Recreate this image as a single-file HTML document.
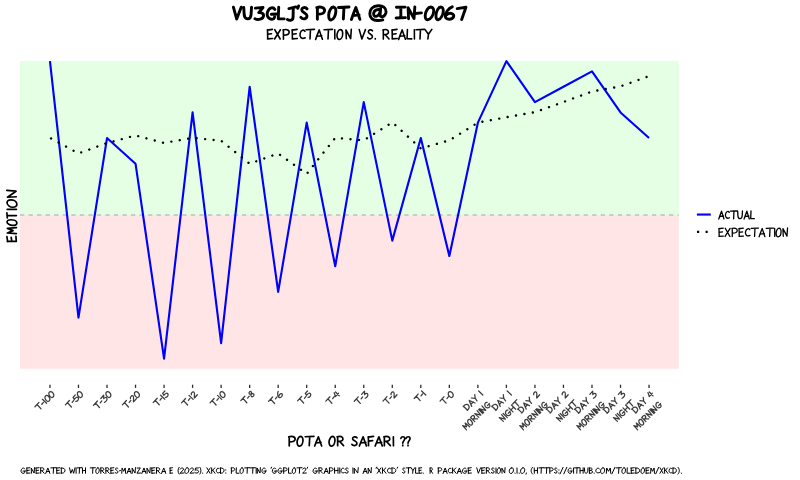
<!DOCTYPE html>
<html>
<head>
<meta charset="utf-8">
<title>VU3GLJ's POTA @ IN-0067</title>
<style>
html,body{margin:0;padding:0;background:#fff;}
body{width:800px;height:480px;overflow:hidden;font-family:"Liberation Sans",sans-serif;}
svg{display:block;}
</style>
</head>
<body>
<svg width="800" height="480" viewBox="0 0 800 480" role="img" aria-label="VU3GLJ's POTA @ IN-0067 - Expectation vs. Reality (xkcd-style line chart of Emotion over time: Actual vs Expectation)">
<rect x="0" y="0" width="800" height="480" fill="#ffffff"/>
<rect x="20" y="61" width="658.8" height="154" fill="#E5FFE5"/>
<rect x="20" y="215" width="658.8" height="153.75" fill="#FFE5E5"/>
<line x1="20" y1="215" x2="678.8" y2="215" stroke="#BEBEBE" stroke-width="1.4" stroke-dasharray="4.27 4.27"/>
<clipPath id="pc"><rect x="20" y="60" width="658.8" height="308.75"/></clipPath>
<polyline points="49.95,61.12 78.48,317.58 107.01,138.06 135.53,163.71 164.06,358.62 192.59,112.42 221.12,343.23 249.65,86.77 278.17,291.94 306.7,122.67 335.23,266.29 363.76,102.16 392.29,240.65 420.81,138.06 449.34,256.03 477.87,122.67 506.4,61.12 534.93,102.16 563.45,86.77 591.98,71.38 620.51,112.42 649.04,138.06" fill="none" stroke="#0000FF" stroke-width="2.13" stroke-linejoin="round" clip-path="url(#pc)"/>
<polyline points="49.95,137.8 78.48,153.4 107.01,143.1 135.53,135.4 164.06,142.95 192.59,137.9 221.12,140.7 249.65,163.7 278.17,153.5 306.7,173.8 335.23,137.85 363.76,140.35 392.29,122.3 420.81,148.4 449.34,140.3 477.87,122.6 506.4,117.25 534.93,112.15 563.45,102 591.98,91.5 620.51,86.4 649.04,76.1" fill="none" stroke="#000000" stroke-width="2.4" stroke-linejoin="round" stroke-linecap="round" stroke-dasharray="0.01 8.525" stroke-dashoffset="-1.3"/>
<line x1="49.95" y1="384.7" x2="49.95" y2="387.9" stroke="#2b2b2b" stroke-width="1.3"/>
<line x1="78.48" y1="384.7" x2="78.48" y2="387.9" stroke="#2b2b2b" stroke-width="1.3"/>
<line x1="107.01" y1="384.7" x2="107.01" y2="387.9" stroke="#2b2b2b" stroke-width="1.3"/>
<line x1="135.53" y1="384.7" x2="135.53" y2="387.9" stroke="#2b2b2b" stroke-width="1.3"/>
<line x1="164.06" y1="384.7" x2="164.06" y2="387.9" stroke="#2b2b2b" stroke-width="1.3"/>
<line x1="192.59" y1="384.7" x2="192.59" y2="387.9" stroke="#2b2b2b" stroke-width="1.3"/>
<line x1="221.12" y1="384.7" x2="221.12" y2="387.9" stroke="#2b2b2b" stroke-width="1.3"/>
<line x1="249.65" y1="384.7" x2="249.65" y2="387.9" stroke="#2b2b2b" stroke-width="1.3"/>
<line x1="278.17" y1="384.7" x2="278.17" y2="387.9" stroke="#2b2b2b" stroke-width="1.3"/>
<line x1="306.7" y1="384.7" x2="306.7" y2="387.9" stroke="#2b2b2b" stroke-width="1.3"/>
<line x1="335.23" y1="384.7" x2="335.23" y2="387.9" stroke="#2b2b2b" stroke-width="1.3"/>
<line x1="363.76" y1="384.7" x2="363.76" y2="387.9" stroke="#2b2b2b" stroke-width="1.3"/>
<line x1="392.29" y1="384.7" x2="392.29" y2="387.9" stroke="#2b2b2b" stroke-width="1.3"/>
<line x1="420.81" y1="384.7" x2="420.81" y2="387.9" stroke="#2b2b2b" stroke-width="1.3"/>
<line x1="449.34" y1="384.7" x2="449.34" y2="387.9" stroke="#2b2b2b" stroke-width="1.3"/>
<line x1="477.87" y1="384.7" x2="477.87" y2="387.9" stroke="#2b2b2b" stroke-width="1.3"/>
<line x1="506.4" y1="384.7" x2="506.4" y2="387.9" stroke="#2b2b2b" stroke-width="1.3"/>
<line x1="534.93" y1="384.7" x2="534.93" y2="387.9" stroke="#2b2b2b" stroke-width="1.3"/>
<line x1="563.45" y1="384.7" x2="563.45" y2="387.9" stroke="#2b2b2b" stroke-width="1.3"/>
<line x1="591.98" y1="384.7" x2="591.98" y2="387.9" stroke="#2b2b2b" stroke-width="1.3"/>
<line x1="620.51" y1="384.7" x2="620.51" y2="387.9" stroke="#2b2b2b" stroke-width="1.3"/>
<line x1="649.04" y1="384.7" x2="649.04" y2="387.9" stroke="#2b2b2b" stroke-width="1.3"/>
<line x1="696.9" y1="214.55" x2="710.8" y2="214.55" stroke="#0000FF" stroke-width="2.13"/>
<line x1="697.05" y1="231.9" x2="710.9" y2="231.9" stroke="#000000" stroke-width="2.13" stroke-dasharray="2.13 6.4"/>
<g transform="translate(0,19)"><path d="M233.4,-11.8L236.7,0L241.19,-11.8M243.75,-11.45L244.22,-4.01C244.69,1.18 250.59,1.18 251.07,-4.48L251.54,-11.8M255.35,-10.86L263.02,-11.45L258.78,-6.37C262.08,-6.61 263.97,-4.96 263.5,-3.07C263.02,0.24 257.83,1.18 255,-0.24M274.87,-9.56C273.45,-12.04 269.44,-12.27 267.55,-7.08C265.9,-1.89 270.15,1.42 273.69,-0.24C274.63,-0.94 274.87,-2.6 274.87,-4.48M271.33,-4.72L276.64,-5.07M278.72,-11.8L278.25,-0.24L284.15,-0.12M288.93,-10.38L295.9,-12.04M293.3,-11.33L293.06,-1.65C292.95,1.42 290,2.12 287.4,0.47M298.58,-13.1L297.75,-10.74M307.04,-10.15C305.62,-12.27 301.73,-11.8 301.73,-8.97C301.73,-6.37 306.68,-6.14 306.92,-3.3C307.15,0 303.02,0.94 300.9,-1.65M317.39,-11.45L317.39,0.24M316.8,-11.33C320.1,-12.74 324.82,-11.8 324.59,-8.26C324.35,-5.43 320.34,-4.72 317.51,-4.72M333.46,-12.04C331.1,-12.27 328.97,-7.79 328.74,-4.48C328.5,-0.94 329.44,1.18 331.1,0.94C333.69,0.71 335.58,-3.54 335.82,-7.08C336.05,-10.38 335.11,-12.15 332.75,-11.68M338.4,-11.56L349.02,-12.04M343.95,-11.8L343.36,0M351.4,0.47C352.58,-3.07 354.23,-7.43 355.88,-11.45C357.06,-7.79 358.6,-3.42 359.9,0.35M352.82,-3.42L359.07,-4.13M380.3,-8.26C378.77,-10.62 373.81,-9.2 373.58,-5.19C373.58,-1.42 378.53,-1.65 380.18,-7.08M380.66,-10.27L380.07,-3.78C380.42,-1.42 384.67,-1.65 385.97,-6.49C386.56,-11.8 382.31,-13.45 378.18,-13.22C372.63,-12.98 369.8,-9.44 369.8,-5.31C369.8,-0.71 373.34,1.65 377.59,1.53C379.71,1.53 381.36,1.42 382.78,0.94M396.45,-11.8L405.07,-11.92M400.82,-11.8L400.82,-1.18M396.1,-1.06L405.42,-1.42M408.57,-0.24L408.1,-11.33L414,-0.47L414.83,-12.15M415.5,-5.55L421.4,-6.14M431.02,-12.04C428.07,-12.27 425.47,-7.55 425.24,-3.78C425,-0.47 426.18,0.94 427.71,0.71C430.9,0.47 433.5,-4.25 433.73,-8.02C433.73,-10.86 432.55,-12.15 430.19,-11.68M440.98,-12.04C438.44,-12.27 436.21,-7.55 436,-3.78C435.8,-0.47 436.81,0.94 438.13,0.71C440.87,0.47 443.11,-4.25 443.31,-8.02C443.31,-10.86 442.29,-12.15 440.27,-11.68M452.22,-12.15C448.2,-10.62 444.9,-5.9 445.37,-2.36C445.84,0.94 452.22,1.18 453.63,-2.36C454.58,-5.19 450.09,-7.08 446.55,-4.25M457.2,-10.38L465.93,-11.8L461.68,0.47" fill="none" stroke="#000000" stroke-width="2.9" stroke-linecap="round" stroke-linejoin="round"/></g>
<g transform="translate(0,39)"><path d="M267.53,-9.21L267.72,-0.09M267.25,-8.84L272.42,-9.59M267.72,-4.7L271.57,-5.26M267.53,-0.09L272.61,-0.47M274.74,-9.4L280.19,0M280.38,-9.21L274.55,0M283.42,-9.12L283.42,0.19M282.95,-9.02C285.58,-10.15 289.34,-9.4 289.15,-6.58C288.97,-4.32 285.77,-3.76 283.51,-3.76M292.23,-9.21L292.42,-0.09M291.95,-8.84L297.12,-9.59M292.42,-4.7L296.27,-5.26M292.23,-0.09L297.31,-0.47M304.99,-7.71C303.86,-9.68 301.14,-9.21 300.1,-5.64C299.35,-2.07 301.7,0.56 305.18,-1.22M306.05,-9.21L314.51,-9.59M310.47,-9.4L310,0M315.65,0.38C316.59,-2.44 317.91,-5.92 319.22,-9.12C320.16,-6.2 321.38,-2.73 322.42,0.28M316.78,-2.73L321.76,-3.29M324.05,-9.21L332.51,-9.59M328.47,-9.4L328,0M334.75,-9.21L334.84,0M340.71,-9.49C338.64,-9.78 336.95,-6.39 336.95,-3.67C336.95,-0.85 338.08,0.66 339.49,0.47C341.46,0.19 342.68,-2.82 342.68,-5.55C342.68,-8.18 341.84,-9.68 340.05,-9.31M346.33,-0.19L345.95,-9.02L350.65,-0.38L351.31,-9.68M359.25,-9.4L361.88,0L365.45,-9.4M372.54,-8.08C371.41,-9.78 368.31,-9.4 368.31,-7.14C368.31,-5.08 372.26,-4.89 372.44,-2.63C372.63,0 369.34,0.75 367.65,-1.32M375.25,-0.47L375.34,0M383.32,-9.12L383.32,0.09M382.85,-9.02C385.48,-10.15 388.68,-9.4 388.49,-6.77C388.3,-4.89 385.67,-4.32 383.51,-4.32M385.29,-4.32L389.05,0M392.13,-9.21L392.32,-0.09M391.85,-8.84L397.02,-9.59M392.32,-4.7L396.17,-5.26M392.13,-0.09L397.21,-0.47M398.65,0.38C399.59,-2.44 400.91,-5.92 402.22,-9.12C403.16,-6.2 404.38,-2.73 405.42,0.28M399.78,-2.73L404.76,-3.29M407.43,-9.4L407.05,-0.19L411.75,-0.09M414.35,-9.21L414.44,0M416.05,-9.21L424.51,-9.59M420.47,-9.4L420,0M425.05,-9.4L428.43,-4.7M431.82,-9.59L428.43,-4.7L427.87,0" fill="none" stroke="#000000" stroke-width="1.6" stroke-linecap="round" stroke-linejoin="round"/></g>
<g transform="translate(0,445.65)"><path d="M289.23,-8.83L289.23,0.18M288.75,-8.74C291.46,-9.83 295.33,-9.1 295.14,-6.37C294.94,-4.19 291.65,-3.64 289.33,-3.64M300.94,-9.19C298.81,-9.46 297.07,-6.19 297.07,-3.55C297.07,-0.82 298.23,0.64 299.68,0.46C301.72,0.18 302.97,-2.73 302.97,-5.37C302.97,-7.92 302.1,-9.37 300.26,-9.01M305.2,-8.92L313.91,-9.28M309.75,-9.1L309.26,0M314.68,0.36C315.65,-2.37 317.01,-5.73 318.36,-8.83C319.33,-6.01 320.59,-2.64 321.65,0.27M315.84,-2.64L320.97,-3.19" fill="none" stroke="#000000" stroke-width="1.7" stroke-linecap="round" stroke-linejoin="round"/></g>
<g transform="translate(0,445.65)"><path d="M332.92,-9.19C330.79,-9.46 329.05,-6.19 329.05,-3.55C329.05,-0.82 330.21,0.64 331.66,0.46C333.69,0.18 334.95,-2.73 334.95,-5.37C334.95,-7.92 334.08,-9.37 332.24,-9.01M337.65,-8.83L337.65,0.09M337.17,-8.74C339.88,-9.83 343.16,-9.1 342.97,-6.55C342.78,-4.73 340.07,-4.19 337.85,-4.19M339.68,-4.19L343.55,0" fill="none" stroke="#000000" stroke-width="1.7" stroke-linecap="round" stroke-linejoin="round"/></g>
<g transform="translate(0,445.65)"><path d="M356.99,-7.83C355.8,-9.46 352.54,-9.1 352.54,-6.92C352.54,-4.91 356.69,-4.73 356.89,-2.55C357.09,0 353.63,0.73 351.85,-1.27M359.36,0.36C360.35,-2.37 361.73,-5.73 363.11,-8.83C364.1,-6.01 365.39,-2.64 366.47,0.27M360.55,-2.64L365.78,-3.19M368.35,-8.92L368.55,0.09M368.06,-8.55L373.49,-9.28M368.55,-4.55L372.6,-5.1M375.17,0.36C376.16,-2.37 377.54,-5.73 378.92,-8.83C379.91,-6.01 381.2,-2.64 382.28,0.27M376.36,-2.64L381.59,-3.19M384.36,-8.83L384.36,0.09M383.87,-8.74C386.63,-9.83 389.99,-9.1 389.79,-6.55C389.6,-4.73 386.83,-4.19 384.56,-4.19M386.43,-4.19L390.39,0M393.35,-8.92L393.45,0" fill="none" stroke="#000000" stroke-width="1.7" stroke-linecap="round" stroke-linejoin="round"/></g>
<g transform="translate(0,445.65)"><path d="M400.85,-7.28C401.43,-9.46 404.79,-9.46 404.79,-7.1C404.79,-5.1 402.89,-4.73 402.75,-2.55M402.75,-0.46L402.75,0M406.11,-7.28C406.69,-9.46 410.05,-9.46 410.05,-7.1C410.05,-5.1 408.15,-4.73 408.01,-2.55M408.01,-0.46L408.01,0" fill="none" stroke="#000000" stroke-width="1.7" stroke-linecap="round" stroke-linejoin="round"/></g>
<g transform="translate(16.4,243) rotate(-90)"><path d="M1.63,-9.11L1.82,-0.09M1.35,-8.74L6.47,-9.49M1.82,-4.65L5.63,-5.21M1.63,-0.09L6.65,-0.47M9.45,0L9.98,-9.02L12.37,-3.35L14.66,-9.02L15.28,0M21.32,-9.39C19.27,-9.67 17.6,-6.32 17.6,-3.63C17.6,-0.84 18.72,0.65 20.11,0.47C22.06,0.19 23.27,-2.79 23.27,-5.49C23.27,-8.09 22.44,-9.58 20.67,-9.21M25.1,-9.11L30.12,-9.49M27.72,-9.3L27.44,0M33.6,-9.11L33.69,0M40.59,-9.39C37.93,-9.67 35.75,-6.32 35.75,-3.63C35.75,-0.84 37.2,0.65 39.01,0.47C41.55,0.19 43.12,-2.79 43.12,-5.49C43.12,-8.09 42.04,-9.58 39.74,-9.21M46.23,-0.19L45.75,-8.93L51.8,-0.37L52.64,-9.58" fill="none" stroke="#000000" stroke-width="1.7" stroke-linecap="round" stroke-linejoin="round"/></g>
<g transform="translate(0,218.75)"><path d="M718.75,0.31C719.48,-2.03 720.5,-4.91 721.52,-7.57C722.24,-5.15 723.19,-2.26 723.99,0.23M719.62,-2.26L723.48,-2.73M729.31,-6.4C728.43,-8.03 726.32,-7.64 725.52,-4.68C724.94,-1.72 726.76,0.47 729.45,-1.01M730.54,-7.64L737.1,-7.96M733.97,-7.8L733.6,0M737.68,-7.57L737.97,-2.65C738.26,0.78 741.9,0.78 742.19,-2.96L742.48,-7.8M744.08,0.31C744.81,-2.03 745.83,-4.91 746.85,-7.57C747.58,-5.15 748.53,-2.26 749.33,0.23M744.96,-2.26L748.82,-2.73M751,-7.8L750.71,-0.16L754.35,-0.08" fill="none" stroke="#000000" stroke-width="1.3" stroke-linecap="round" stroke-linejoin="round"/></g>
<g transform="translate(0,236.45)"><path d="M718.99,-8.04L719.16,-0.08M718.75,-7.71L723.21,-8.36M719.16,-4.1L722.48,-4.59M718.99,-0.08L723.37,-0.41M725.23,-8.2L729.93,0M730.1,-8.04L725.07,0M732.28,-7.95L732.28,0.16M731.88,-7.87C734.15,-8.86 737.39,-8.2 737.23,-5.74C737.06,-3.77 734.31,-3.28 732.36,-3.28M739.09,-8.04L739.25,-0.08M738.85,-7.71L743.3,-8.36M739.25,-4.1L742.57,-4.59M739.09,-0.08L743.47,-0.41M749.79,-6.72C748.81,-8.45 746.46,-8.04 745.57,-4.92C744.92,-1.8 746.95,0.49 749.95,-1.07M751.16,-8.04L758.46,-8.36M754.97,-8.2L754.57,0M759.11,0.33C759.92,-2.13 761.05,-5.17 762.19,-7.95C763,-5.41 764.05,-2.38 764.94,0.25M760.08,-2.38L764.37,-2.87M766.24,-8.04L773.53,-8.36M770.05,-8.2L769.64,0M774.67,-8.04L774.75,0M779.37,-8.28C777.58,-8.53 776.12,-5.58 776.12,-3.2C776.12,-0.74 777.1,0.57 778.31,0.41C780.01,0.16 781.07,-2.46 781.07,-4.84C781.07,-7.13 780.34,-8.45 778.8,-8.12M783.26,-0.16L782.93,-7.87L786.98,-0.33L787.55,-8.45" fill="none" stroke="#000000" stroke-width="1.3" stroke-linecap="round" stroke-linejoin="round"/></g>
<g transform="translate(0,473.3)"><path d="M24.79,-4.46C24.1,-5.61 22.11,-5.72 21.18,-3.3C20.36,-0.88 22.46,0.66 24.21,-0.11C24.68,-0.44 24.79,-1.21 24.79,-2.09M23.05,-2.2L25.67,-2.37M26.83,-5.39L26.95,-0.06M26.66,-5.17L29.87,-5.61M26.95,-2.75L29.34,-3.08M26.83,-0.06L29.98,-0.28M31.44,-0.11L31.21,-5.28L34.12,-0.22L34.53,-5.67M36.05,-5.39L36.16,-0.06M35.87,-5.17L39.08,-5.61M36.16,-2.75L38.55,-3.08M36.05,-0.06L39.19,-0.28M40.71,-5.33L40.71,0.06M40.42,-5.28C42.05,-5.94 44.03,-5.5 43.92,-3.96C43.8,-2.86 42.17,-2.53 40.83,-2.53M41.93,-2.53L44.27,0M45.66,0.22C46.25,-1.43 47.06,-3.46 47.88,-5.33C48.46,-3.63 49.22,-1.59 49.86,0.17M46.36,-1.59L49.45,-1.93M50.79,-5.39L56.04,-5.61M53.53,-5.5L53.24,0M56.68,-5.39L56.8,-0.06M56.51,-5.17L59.71,-5.61M56.8,-2.75L59.19,-3.08M56.68,-0.06L59.83,-0.28M61.29,-5.39L61.35,0M60.94,-5.22C63.97,-5.83 65.25,-3.96 64.96,-2.53C64.67,-0.66 63.15,0.11 61.05,-0.11M69.5,-5.5L70.77,0L72.31,-3.85L73.63,0L75.01,-5.5M76.07,-5.39L76.12,0M77.02,-5.39L81.79,-5.61M79.51,-5.5L79.25,0M82.43,-5.39L82.48,0M85.5,-5.5L85.5,0M82.48,-2.58L85.5,-2.86M90.25,-5.39L95.33,-5.61M92.9,-5.5L92.62,0M98.03,-5.55C96.79,-5.72 95.78,-3.74 95.78,-2.15C95.78,-0.49 96.45,0.39 97.3,0.28C98.48,0.11 99.22,-1.65 99.22,-3.25C99.22,-4.79 98.71,-5.67 97.64,-5.45M100.8,-5.33L100.8,0.06M100.52,-5.28C102.09,-5.94 104.01,-5.5 103.9,-3.96C103.79,-2.86 102.21,-2.53 100.91,-2.53M101.98,-2.53L104.24,0M105.87,-5.33L105.87,0.06M105.59,-5.28C107.17,-5.94 109.09,-5.5 108.98,-3.96C108.86,-2.86 107.28,-2.53 105.99,-2.53M107.06,-2.53L109.31,0M110.84,-5.39L110.95,-0.06M110.67,-5.17L113.77,-5.61M110.95,-2.75L113.26,-3.08M110.84,-0.06L113.88,-0.28M118,-4.73C117.32,-5.72 115.46,-5.5 115.46,-4.18C115.46,-2.97 117.83,-2.86 117.94,-1.54C118.06,0 116.08,0.44 115.07,-0.77M119.5,-2.53L120.5,-2.75M121.75,0L122.1,-5.33L123.69,-1.98L125.22,-5.33L125.63,0M126.93,0.22C127.51,-1.43 128.34,-3.46 129.16,-5.33C129.75,-3.63 130.51,-1.59 131.16,0.17M127.63,-1.59L130.75,-1.93M132.34,-0.11L132.1,-5.28L135.04,-0.22L135.46,-5.67M137.04,-5.22L140.34,-5.39L136.93,-0.11L140.57,-0.28M141.75,0.22C142.34,-1.43 143.16,-3.46 143.99,-5.33C144.57,-3.63 145.34,-1.59 145.99,0.17M142.46,-1.59L145.57,-1.93M147.16,-0.11L146.93,-5.28L149.87,-0.22L150.28,-5.67M151.81,-5.39L151.93,-0.06M151.63,-5.17L154.87,-5.61M151.93,-2.75L154.34,-3.08M151.81,-0.06L154.99,-0.28M156.51,-5.33L156.51,0.06M156.22,-5.28C157.87,-5.94 159.87,-5.5 159.75,-3.96C159.63,-2.86 157.99,-2.53 156.63,-2.53M157.75,-2.53L160.1,0M161.51,0.22C162.1,-1.43 162.93,-3.46 163.75,-5.33C164.34,-3.63 165.1,-1.59 165.75,0.17M162.22,-1.59L165.34,-1.93M170.04,-5.39L170.14,-0.06M169.9,-5.17L172.51,-5.61M170.14,-2.75L172.08,-3.08M170.04,-0.06L172.6,-0.28M179.08,-6.05C177.64,-4.18 177.64,-0.99 179.08,0.77M180.15,-4.18C180.63,-5.61 183.51,-5.83 183.51,-4.18C183.51,-2.64 180.75,-1.43 180.04,-0.06L183.99,-0.33M187.22,-5.55C185.78,-5.67 184.82,-3.63 184.82,-1.98C184.82,-0.44 185.54,0.28 186.5,0.17C187.94,0.06 188.89,-1.87 188.89,-3.52C188.89,-4.95 188.18,-5.67 186.86,-5.45M190.09,-4.18C190.57,-5.61 193.44,-5.83 193.44,-4.18C193.44,-2.64 190.69,-1.43 189.97,-0.06L193.92,-0.33M198.47,-5.39L195.48,-5.22L195.12,-3.08C196.67,-3.74 198.71,-3.08 198.59,-1.65C198.47,0 195.84,0.33 194.76,-0.88M199.91,-6.05C201.34,-4.18 201.34,-0.99 199.91,0.77M202.54,-0.28L202.6,0M206.86,-5.5L210.1,0M210.21,-5.39L206.75,0M211.67,-5.39L211.72,0M214.8,-5.39L211.84,-2.31M212.79,-3.08L215.02,0M219.32,-4.51C218.65,-5.67 217.03,-5.39 216.42,-3.3C215.97,-1.21 217.37,0.33 219.44,-0.71M220.5,-5.39L220.55,0M220.16,-5.22C223.07,-5.83 224.3,-3.96 224.02,-2.53C223.74,-0.66 222.29,0.11 220.27,-0.11M225.75,-3.52L225.75,-3.19M225.75,-0.44L225.75,-0.11M231.38,-5.33L231.38,0.11M231.1,-5.28C232.69,-5.94 234.95,-5.5 234.84,-3.85C234.73,-2.53 232.8,-2.2 231.44,-2.2M236.37,-5.5L236.14,-0.11L238.98,-0.06M242.21,-5.55C240.96,-5.72 239.94,-3.74 239.94,-2.15C239.94,-0.49 240.62,0.39 241.47,0.28C242.66,0.11 243.4,-1.65 243.4,-3.25C243.4,-4.79 242.89,-5.67 241.81,-5.45M244.7,-5.39L249.8,-5.61M247.36,-5.5L247.08,0M250.25,-5.39L255.35,-5.61M252.91,-5.5L252.63,0M256.14,-5.39L256.2,0M257.39,-0.11L257.16,-5.28L260,-0.22L260.39,-5.67M265.55,-4.46C264.87,-5.61 262.94,-5.72 262.04,-3.3C261.24,-0.88 263.28,0.66 264.98,-0.11C265.44,-0.44 265.55,-1.21 265.55,-2.09M263.85,-2.2L266.4,-2.37M271.5,-6.11L271.1,-5M275.96,-4.46C275.28,-5.61 273.36,-5.72 272.46,-3.3C271.67,-0.88 273.7,0.66 275.39,-0.11C275.85,-0.44 275.96,-1.21 275.96,-2.09M274.26,-2.2L276.81,-2.37M281.61,-4.46C280.93,-5.61 279.01,-5.72 278.11,-3.3C277.32,-0.88 279.35,0.66 281.04,-0.11C281.5,-0.44 281.61,-1.21 281.61,-2.09M279.91,-2.2L282.46,-2.37M283.7,-5.33L283.7,0.11M283.42,-5.28C285,-5.94 287.26,-5.5 287.15,-3.85C287.03,-2.53 285.11,-2.2 283.76,-2.2M288.67,-5.5L288.45,-0.11L291.27,-0.06M294.49,-5.55C293.25,-5.72 292.23,-3.74 292.23,-2.15C292.23,-0.49 292.91,0.39 293.76,0.28C294.94,0.11 295.68,-1.65 295.68,-3.25C295.68,-4.79 295.17,-5.67 294.1,-5.45M296.98,-5.39L302.06,-5.61M299.63,-5.5L299.35,0M302.74,-4.18C303.19,-5.61 305.9,-5.83 305.9,-4.18C305.9,-2.64 303.31,-1.43 302.63,-0.06L306.36,-0.33M307.6,-6.11L307.2,-5M316.84,-4.46C316.13,-5.61 314.13,-5.72 313.18,-3.3C312.36,-0.88 314.48,0.66 316.25,-0.11C316.72,-0.44 316.84,-1.21 316.84,-2.09M315.07,-2.2L317.73,-2.37M319.03,-5.33L319.03,0.06M318.73,-5.28C320.38,-5.94 322.39,-5.5 322.27,-3.96C322.16,-2.86 320.5,-2.53 319.15,-2.53M320.27,-2.53L322.63,0M324.05,0.22C324.64,-1.43 325.46,-3.46 326.29,-5.33C326.88,-3.63 327.65,-1.59 328.3,0.17M324.75,-1.59L327.88,-1.93M329.54,-5.33L329.54,0.11M329.24,-5.28C330.89,-5.94 333.25,-5.5 333.14,-3.85C333.02,-2.53 331.01,-2.2 329.59,-2.2M334.55,-5.39L334.61,0M337.98,-5.5L337.98,0M334.61,-2.58L337.98,-2.86M339.75,-5.39L339.81,0M344.18,-4.51C343.47,-5.67 341.76,-5.39 341.11,-3.3C340.63,-1.21 342.11,0.33 344.29,-0.71M348.25,-4.73C347.54,-5.72 345.59,-5.5 345.59,-4.18C345.59,-2.97 348.07,-2.86 348.19,-1.54C348.31,0 346.24,0.44 345.18,-0.77M352.9,-5.39L352.97,0M354.47,-0.11L354.18,-5.28L357.75,-0.22L358.25,-5.67M363,0.22C363.58,-1.43 364.39,-3.46 365.2,-5.33C365.78,-3.63 366.53,-1.59 367.17,0.17M363.7,-1.59L366.77,-1.93M368.33,-0.11L368.1,-5.28L370.99,-0.22L371.4,-5.67M376.52,-6.11L376.1,-5M377.3,-5.5L380.78,0M380.9,-5.39L377.18,0M382.47,-5.39L382.53,0M385.83,-5.39L382.65,-2.31M383.67,-3.08L386.07,0M390.69,-4.51C389.97,-5.67 388.23,-5.39 387.57,-3.3C387.09,-1.21 388.59,0.33 390.81,-0.71M391.95,-5.39L392.01,0M391.59,-5.22C394.72,-5.83 396.04,-3.96 395.74,-2.53C395.44,-0.66 393.88,0.11 391.71,-0.11M397.6,-6.11L397.18,-5M405.01,-4.73C404.41,-5.72 402.75,-5.5 402.75,-4.18C402.75,-2.97 404.86,-2.86 404.96,-1.54C405.06,0 403.3,0.44 402.4,-0.77M406.22,-5.39L410.74,-5.61M408.58,-5.5L408.33,0M411.14,-5.5L412.95,-2.75M414.76,-5.61L412.95,-2.75L412.65,0M415.71,-5.5L415.51,-0.11L418.02,-0.06M419.03,-5.39L419.13,-0.06M418.88,-5.17L421.64,-5.61M419.13,-2.75L421.19,-3.08M419.03,-0.06L421.74,-0.28M423.2,-0.28L423.25,0M430.1,-5.33L430.1,0.06M429.9,-5.28C431.05,-5.94 432.44,-5.5 432.35,-3.96C432.27,-2.86 431.13,-2.53 430.19,-2.53M430.96,-2.53L432.6,0M438.29,-5.33L438.29,0.11M438,-5.28C439.62,-5.94 441.94,-5.5 441.82,-3.85C441.7,-2.53 439.74,-2.2 438.35,-2.2M442.98,0.22C443.56,-1.43 444.37,-3.46 445.18,-5.33C445.76,-3.63 446.51,-1.59 447.15,0.17M443.67,-1.59L446.74,-1.93M451.37,-4.51C450.68,-5.67 449,-5.39 448.36,-3.3C447.9,-1.21 449.35,0.33 451.49,-0.71M452.59,-5.39L452.65,0M455.83,-5.39L452.76,-2.31M453.74,-3.08L456.06,0M457.22,0.22C457.8,-1.43 458.61,-3.46 459.42,-5.33C460,-3.63 460.75,-1.59 461.39,0.17M457.91,-1.59L460.98,-1.93M466.25,-4.46C465.55,-5.61 463.59,-5.72 462.66,-3.3C461.85,-0.88 463.93,0.66 465.67,-0.11C466.13,-0.44 466.25,-1.21 466.25,-2.09M464.51,-2.2L467.12,-2.37M468.27,-5.39L468.39,-0.06M468.1,-5.17L471.28,-5.61M468.39,-2.75L470.76,-3.08M468.27,-0.06L471.4,-0.28M476.75,-5.5L478.36,0L480.55,-5.5M481.75,-5.39L481.87,-0.06M481.58,-5.17L484.74,-5.61M481.87,-2.75L484.23,-3.08M481.75,-0.06L484.86,-0.28M486.35,-5.33L486.35,0.06M486.07,-5.28C487.68,-5.94 489.63,-5.5 489.52,-3.96C489.4,-2.86 487.79,-2.53 486.47,-2.53M487.56,-2.53L489.86,0M494.23,-4.73C493.54,-5.72 491.64,-5.5 491.64,-4.18C491.64,-2.97 494.06,-2.86 494.17,-1.54C494.29,0 492.28,0.44 491.24,-0.77M495.96,-5.39L496.01,0M499.29,-5.55C498.03,-5.72 496.99,-3.74 496.99,-2.15C496.99,-0.49 497.68,0.39 498.54,0.28C499.75,0.11 500.5,-1.65 500.5,-3.25C500.5,-4.79 499.98,-5.67 498.89,-5.45M502.05,-0.11L501.82,-5.28L504.7,-0.22L505.1,-5.67M511.74,-5.55C510.24,-5.67 509.25,-3.63 509.25,-1.98C509.25,-0.44 510,0.28 510.99,0.17C512.48,0.06 513.48,-1.87 513.48,-3.52C513.48,-4.95 512.73,-5.67 511.36,-5.45M514.97,-0.28L515.03,0M516.96,-5.39L517.08,0M519.19,-0.28L519.25,0M523.04,-5.55C521.55,-5.67 520.56,-3.63 520.56,-1.98C520.56,-0.44 521.3,0.28 522.3,0.17C523.79,0.06 524.78,-1.87 524.78,-3.52C524.78,-4.95 524.04,-5.67 522.67,-5.45M526.4,-0.33L526.03,0.88M532.6,-6.05C530.6,-4.18 530.6,-0.99 532.6,0.77M534.25,-5.39L534.31,0M537.44,-5.5L537.44,0M534.31,-2.58L537.44,-2.86M538.76,-5.39L543.71,-5.61M541.35,-5.5L541.07,0M544.15,-5.39L549.11,-5.61M546.74,-5.5L546.46,0M549.82,-5.33L549.82,0.11M549.55,-5.28C551.09,-5.94 553.29,-5.5 553.18,-3.85C553.07,-2.53 551.2,-2.2 549.88,-2.2M557.14,-4.73C556.48,-5.72 554.66,-5.5 554.66,-4.18C554.66,-2.97 556.97,-2.86 557.08,-1.54C557.19,0 555.27,0.44 554.28,-0.77M558.9,-3.52L558.9,-3.19M558.9,-0.44L558.9,-0.11M563.08,-5.94L560.1,0.55M566.8,-5.94L563.82,0.55M571.51,-4.46C570.86,-5.61 569.03,-5.72 568.17,-3.3C567.41,-0.88 569.35,0.66 570.97,-0.11C571.4,-0.44 571.51,-1.21 571.51,-2.09M569.89,-2.2L572.31,-2.37M573.55,-5.39L573.61,0M574.52,-5.39L579.37,-5.61M577.05,-5.5L576.79,0M580.02,-5.39L580.07,0M583.14,-5.5L583.14,0M580.07,-2.58L583.14,-2.86M584.43,-5.33L584.65,-1.87C584.87,0.55 587.56,0.55 587.77,-2.09L587.99,-5.5M589.39,-5.39L589.44,0M589.18,-5.22C591.11,-5.72 592.41,-4.95 592.14,-3.96C591.87,-3.14 590.68,-2.92 589.61,-2.81C591.33,-2.97 592.84,-2.31 592.57,-1.21C592.3,-0.11 590.79,0.11 589.28,-0.11M594.1,-0.28L594.17,0M599.4,-4.51C598.6,-5.67 596.65,-5.39 595.91,-3.3C595.38,-1.21 597.05,0.33 599.54,-0.71M603.23,-5.55C601.75,-5.72 600.55,-3.74 600.55,-2.15C600.55,-0.49 601.35,0.39 602.36,0.28C603.77,0.11 604.64,-1.65 604.64,-3.25C604.64,-4.79 604.04,-5.67 602.76,-5.45M606.32,0L606.72,-5.33L608.53,-1.98L610.28,-5.33L610.75,0M614.9,-5.94L611.9,0.55M616.1,-5.39L621.42,-5.61M618.88,-5.5L618.58,0M624.25,-5.55C622.95,-5.72 621.89,-3.74 621.89,-2.15C621.89,-0.49 622.6,0.39 623.48,0.28C624.73,0.11 625.49,-1.65 625.49,-3.25C625.49,-4.79 624.96,-5.67 623.84,-5.45M627.27,-5.5L627.03,-0.11L629.98,-0.06M631.16,-5.39L631.28,-0.06M630.99,-5.17L634.24,-5.61M631.28,-2.75L633.7,-3.08M631.16,-0.06L634.35,-0.28M635.83,-5.39L635.89,0M635.48,-5.22C638.55,-5.83 639.85,-3.96 639.55,-2.53C639.26,-0.66 637.72,0.11 635.6,-0.11M643.28,-5.55C641.98,-5.72 640.91,-3.74 640.91,-2.15C640.91,-0.49 641.62,0.39 642.51,0.28C643.75,0.11 644.52,-1.65 644.52,-3.25C644.52,-4.79 643.98,-5.67 642.86,-5.45M646.05,-5.39L646.17,-0.06M645.87,-5.17L649.12,-5.61M646.17,-2.75L648.59,-3.08M646.05,-0.06L649.24,-0.28M650.6,0L650.96,-5.33L652.55,-1.98L654.09,-5.33L654.5,0M658.7,-5.94L655.7,0.55M660.01,-5.5L663.1,0M663.2,-5.39L659.9,0M664.59,-5.39L664.64,0M667.57,-5.39L664.75,-2.31M665.65,-3.08L667.79,0M671.89,-4.51C671.25,-5.67 669.7,-5.39 669.12,-3.3C668.69,-1.21 670.02,0.33 671.99,-0.71M673.01,-5.39L673.06,0M672.69,-5.22C675.46,-5.83 676.63,-3.96 676.36,-2.53C676.1,-0.66 674.71,0.11 672.79,-0.11M678,-6.05C679.81,-4.18 679.81,-0.99 678,0.77M681.32,-0.28L681.4,0" fill="none" stroke="#000000" stroke-width="1" stroke-linecap="round" stroke-linejoin="round"/></g>
<g transform="translate(49.55,389.6) rotate(-45)"><path transform="translate(0,7.6)" d="M-22.47,-5.78L-16.52,-6.02M-19.36,-5.9L-19.69,0M-15.86,-2.71L-13.35,-2.95M-11.89,-5.78L-11.76,0M-7.4,-5.96C-8.99,-6.08 -10.04,-3.89 -10.04,-2.12C-10.04,-0.47 -9.25,0.3 -8.19,0.18C-6.61,0.06 -5.55,-2.01 -5.55,-3.78C-5.55,-5.31 -6.34,-6.08 -7.8,-5.84M-1.85,-5.96C-3.44,-6.08 -4.49,-3.89 -4.49,-2.12C-4.49,-0.47 -3.7,0.3 -2.64,0.18C-1.06,0.06 0,-2.01 0,-3.78C0,-5.31 -0.79,-6.08 -2.25,-5.84" fill="none" stroke="#3c3c3c" stroke-width="1.25" stroke-linecap="round" stroke-linejoin="round"/></g>
<g transform="translate(78.08,389.6) rotate(-45)"><path transform="translate(0,7.6)" d="M-19.82,-5.78L-13.88,-6.02M-16.72,-5.9L-17.05,0M-13.22,-2.71L-10.7,-2.95M-5.82,-5.78L-9.12,-5.61L-9.52,-3.3C-7.8,-4.01 -5.55,-3.3 -5.68,-1.77C-5.82,0 -8.72,0.35 -9.91,-0.94M-1.85,-5.96C-3.44,-6.08 -4.49,-3.89 -4.49,-2.12C-4.49,-0.47 -3.7,0.3 -2.64,0.18C-1.06,0.06 0,-2.01 0,-3.78C0,-5.31 -0.79,-6.08 -2.25,-5.84" fill="none" stroke="#3c3c3c" stroke-width="1.25" stroke-linecap="round" stroke-linejoin="round"/></g>
<g transform="translate(106.61,389.6) rotate(-45)"><path transform="translate(0,7.6)" d="M-20.48,-5.78L-14.54,-6.02M-17.38,-5.9L-17.71,0M-13.88,-2.71L-11.37,-2.95M-10.37,-5.43L-6.08,-5.72L-8.46,-3.19C-6.61,-3.3 -5.55,-2.48 -5.82,-1.53C-6.08,0.12 -8.99,0.59 -10.57,-0.12M-1.85,-5.96C-3.44,-6.08 -4.49,-3.89 -4.49,-2.12C-4.49,-0.47 -3.7,0.3 -2.64,0.18C-1.06,0.06 0,-2.01 0,-3.78C0,-5.31 -0.79,-6.08 -2.25,-5.84" fill="none" stroke="#3c3c3c" stroke-width="1.25" stroke-linecap="round" stroke-linejoin="round"/></g>
<g transform="translate(135.13,389.6) rotate(-45)"><path transform="translate(0,7.6)" d="M-19.82,-5.78L-13.88,-6.02M-16.72,-5.9L-17.05,0M-13.22,-2.71L-10.7,-2.95M-9.65,-4.48C-9.12,-6.02 -5.95,-6.25 -5.95,-4.48C-5.95,-2.83 -8.99,-1.53 -9.78,-0.06L-5.42,-0.35M-1.85,-5.96C-3.44,-6.08 -4.49,-3.89 -4.49,-2.12C-4.49,-0.47 -3.7,0.3 -2.64,0.18C-1.06,0.06 0,-2.01 0,-3.78C0,-5.31 -0.79,-6.08 -2.25,-5.84" fill="none" stroke="#3c3c3c" stroke-width="1.25" stroke-linecap="round" stroke-linejoin="round"/></g>
<g transform="translate(163.66,389.6) rotate(-45)"><path transform="translate(0,7.6)" d="M-16.65,-5.78L-10.7,-6.02M-13.55,-5.9L-13.88,0M-10.04,-2.71L-7.53,-2.95M-6.08,-5.78L-5.95,0M-0.13,-5.78L-3.44,-5.61L-3.83,-3.3C-2.11,-4.01 0.13,-3.3 0,-1.77C-0.13,0 -3.04,0.35 -4.23,-0.94" fill="none" stroke="#3c3c3c" stroke-width="1.25" stroke-linecap="round" stroke-linejoin="round"/></g>
<g transform="translate(192.19,389.6) rotate(-45)"><path transform="translate(0,7.6)" d="M-16.92,-5.78L-10.97,-6.02M-13.81,-5.9L-14.14,0M-10.31,-2.71L-7.8,-2.95M-6.34,-5.78L-6.21,0M-4.23,-4.48C-3.7,-6.02 -0.53,-6.25 -0.53,-4.48C-0.53,-2.83 -3.57,-1.53 -4.36,-0.06L0,-0.35" fill="none" stroke="#3c3c3c" stroke-width="1.25" stroke-linecap="round" stroke-linejoin="round"/></g>
<g transform="translate(220.72,389.6) rotate(-45)"><path transform="translate(0,7.6)" d="M-16.92,-5.78L-10.97,-6.02M-13.81,-5.9L-14.14,0M-10.31,-2.71L-7.8,-2.95M-6.34,-5.78L-6.21,0M-1.85,-5.96C-3.44,-6.08 -4.49,-3.89 -4.49,-2.12C-4.49,-0.47 -3.7,0.3 -2.64,0.18C-1.06,0.06 0,-2.01 0,-3.78C0,-5.31 -0.79,-6.08 -2.25,-5.84" fill="none" stroke="#3c3c3c" stroke-width="1.25" stroke-linecap="round" stroke-linejoin="round"/></g>
<g transform="translate(249.25,389.6) rotate(-45)"><path transform="translate(0,7.6)" d="M-13.81,-5.78L-7.86,-6.02M-10.7,-5.9L-11.04,0M-7.2,-2.71L-4.69,-2.95M-1.52,-3.07C-3.37,-3.54 -3.37,-5.66 -1.52,-5.78C0.33,-5.66 0.2,-3.54 -1.52,-3.07C-3.77,-2.48 -3.9,-0.12 -1.65,0C0.59,-0.12 0.46,-2.48 -1.52,-3.07" fill="none" stroke="#3c3c3c" stroke-width="1.25" stroke-linecap="round" stroke-linejoin="round"/></g>
<g transform="translate(277.77,389.6) rotate(-45)"><path transform="translate(0,7.6)" d="M-14.87,-5.78L-8.93,-6.02M-11.77,-5.9L-12.1,0M-8.26,-2.71L-5.75,-2.95M-0.86,-6.08C-3.11,-5.31 -4.96,-2.95 -4.7,-1.18C-4.43,0.47 -0.86,0.59 -0.07,-1.18C0.46,-2.6 -2.05,-3.54 -4.04,-2.12" fill="none" stroke="#3c3c3c" stroke-width="1.25" stroke-linecap="round" stroke-linejoin="round"/></g>
<g transform="translate(306.3,389.6) rotate(-45)"><path transform="translate(0,7.6)" d="M-14.14,-5.78L-8.19,-6.02M-11.04,-5.9L-11.37,0M-7.53,-2.71L-5.02,-2.95M-0.13,-5.78L-3.44,-5.61L-3.83,-3.3C-2.11,-4.01 0.13,-3.3 0,-1.77C-0.13,0 -3.04,0.35 -4.23,-0.94" fill="none" stroke="#3c3c3c" stroke-width="1.25" stroke-linecap="round" stroke-linejoin="round"/></g>
<g transform="translate(334.83,389.6) rotate(-45)"><path transform="translate(0,7.6)" d="M-14.54,-5.78L-8.59,-6.02M-11.43,-5.9L-11.76,0M-7.93,-2.71L-5.42,-2.95M-2.64,-5.9L-4.49,-2.24L0,-2.48M-1.19,-5.43L-1.32,0" fill="none" stroke="#3c3c3c" stroke-width="1.25" stroke-linecap="round" stroke-linejoin="round"/></g>
<g transform="translate(363.36,389.6) rotate(-45)"><path transform="translate(0,7.6)" d="M-14.71,-5.78L-8.76,-6.02M-11.6,-5.9L-11.93,0M-8.1,-2.71L-5.59,-2.95M-4.6,-5.43L-0.3,-5.72L-2.68,-3.19C-0.83,-3.3 0.23,-2.48 -0.04,-1.53C-0.3,0.12 -3.21,0.59 -4.8,-0.12" fill="none" stroke="#3c3c3c" stroke-width="1.25" stroke-linecap="round" stroke-linejoin="round"/></g>
<g transform="translate(391.89,389.6) rotate(-45)"><path transform="translate(0,7.6)" d="M-14.41,-5.78L-8.46,-6.02M-11.3,-5.9L-11.63,0M-7.8,-2.71L-5.29,-2.95M-4.23,-4.48C-3.7,-6.02 -0.53,-6.25 -0.53,-4.48C-0.53,-2.83 -3.57,-1.53 -4.36,-0.06L0,-0.35" fill="none" stroke="#3c3c3c" stroke-width="1.25" stroke-linecap="round" stroke-linejoin="round"/></g>
<g transform="translate(420.41,389.6) rotate(-45)"><path transform="translate(0,7.6)" d="M-10.7,-5.78L-4.76,-6.02M-7.6,-5.9L-7.93,0M-4.1,-2.71L-1.59,-2.95M-0.13,-5.78L0,0" fill="none" stroke="#3c3c3c" stroke-width="1.25" stroke-linecap="round" stroke-linejoin="round"/></g>
<g transform="translate(448.94,389.6) rotate(-45)"><path transform="translate(0,7.6)" d="M-14.41,-5.78L-8.46,-6.02M-11.3,-5.9L-11.63,0M-7.8,-2.71L-5.29,-2.95M-1.85,-5.96C-3.44,-6.08 -4.49,-3.89 -4.49,-2.12C-4.49,-0.47 -3.7,0.3 -2.64,0.18C-1.06,0.06 0,-2.01 0,-3.78C0,-5.31 -0.79,-6.08 -2.25,-5.84" fill="none" stroke="#3c3c3c" stroke-width="1.25" stroke-linecap="round" stroke-linejoin="round"/></g>
<g transform="translate(477.47,389.6) rotate(-45)"><path transform="translate(0,7.6)" d="M-21.67,-5.78L-21.61,0M-22.07,-5.61C-18.63,-6.25 -17.18,-4.25 -17.51,-2.71C-17.84,-0.71 -19.56,0.12 -21.94,-0.12M-15.99,0.24C-15.33,-1.53 -14.41,-3.72 -13.48,-5.72C-12.82,-3.89 -11.96,-1.71 -11.23,0.18M-15.2,-1.71L-11.7,-2.06M-10.18,-5.9L-7.8,-2.95M-5.42,-6.02L-7.8,-2.95L-8.19,0M-0.13,-5.78L0,0" fill="none" stroke="#3c3c3c" stroke-width="1.25" stroke-linecap="round" stroke-linejoin="round"/></g>
<g transform="translate(477.47,389.6) rotate(-45)"><path transform="translate(0,20.7)" d="M-36.26,0L-35.86,-5.72L-34.08,-2.12L-32.36,-5.72L-31.9,0M-27.8,-5.96C-29.25,-6.14 -30.44,-4.01 -30.44,-2.3C-30.44,-0.53 -29.65,0.41 -28.66,0.3C-27.27,0.12 -26.41,-1.77 -26.41,-3.48C-26.41,-5.13 -27.01,-6.08 -28.26,-5.84M-24.56,-5.72L-24.56,0.06M-24.89,-5.66C-23.04,-6.37 -20.79,-5.9 -20.93,-4.25C-21.06,-3.07 -22.91,-2.71 -24.43,-2.71M-23.17,-2.71L-20.53,0M-18.68,-0.12L-18.94,-5.66L-15.64,-0.24L-15.18,-6.08M-13.26,-5.78L-13.19,0M-11.81,-0.12L-12.07,-5.66L-8.77,-0.24L-8.3,-6.08M-2.29,-4.78C-3.08,-6.02 -5.33,-6.14 -6.39,-3.54C-7.31,-0.94 -4.93,0.71 -2.95,-0.12C-2.42,-0.47 -2.29,-1.3 -2.29,-2.24M-4.27,-2.36L-1.3,-2.54" fill="none" stroke="#3c3c3c" stroke-width="1.25" stroke-linecap="round" stroke-linejoin="round"/></g>
<g transform="translate(506,389.6) rotate(-45)"><path transform="translate(0,7.6)" d="M-21.67,-5.78L-21.61,0M-22.07,-5.61C-18.63,-6.25 -17.18,-4.25 -17.51,-2.71C-17.84,-0.71 -19.56,0.12 -21.94,-0.12M-15.99,0.24C-15.33,-1.53 -14.41,-3.72 -13.48,-5.72C-12.82,-3.89 -11.96,-1.71 -11.23,0.18M-15.2,-1.71L-11.7,-2.06M-10.18,-5.9L-7.8,-2.95M-5.42,-6.02L-7.8,-2.95L-8.19,0M-0.13,-5.78L0,0" fill="none" stroke="#3c3c3c" stroke-width="1.25" stroke-linecap="round" stroke-linejoin="round"/></g>
<g transform="translate(506,389.6) rotate(-45)"><path transform="translate(0,20.7)" d="M-24.35,-0.12L-24.61,-5.66L-21.31,-0.24L-20.84,-6.08M-18.93,-5.78L-18.86,0M-13.24,-4.78C-14.04,-6.02 -16.28,-6.14 -17.34,-3.54C-18.27,-0.94 -15.89,0.71 -13.91,-0.12C-13.38,-0.47 -13.24,-1.3 -13.24,-2.24M-15.23,-2.36L-12.25,-2.54M-10.87,-5.78L-10.8,0M-7.03,-5.9L-7.03,0M-10.8,-2.77L-7.03,-3.07M-5.45,-5.78L0.5,-6.02M-2.34,-5.9L-2.67,0" fill="none" stroke="#3c3c3c" stroke-width="1.25" stroke-linecap="round" stroke-linejoin="round"/></g>
<g transform="translate(534.53,389.6) rotate(-45)"><path transform="translate(0,7.6)" d="M-25.37,-5.78L-25.31,0M-25.77,-5.61C-22.34,-6.25 -20.88,-4.25 -21.21,-2.71C-21.54,-0.71 -23.26,0.12 -25.64,-0.12M-19.69,0.24C-19.03,-1.53 -18.11,-3.72 -17.18,-5.72C-16.52,-3.89 -15.66,-1.71 -14.93,0.18M-18.9,-1.71L-15.4,-2.06M-13.88,-5.9L-11.5,-2.95M-9.12,-6.02L-11.5,-2.95L-11.89,0M-4.23,-4.48C-3.7,-6.02 -0.53,-6.25 -0.53,-4.48C-0.53,-2.83 -3.57,-1.53 -4.36,-0.06L0,-0.35" fill="none" stroke="#3c3c3c" stroke-width="1.25" stroke-linecap="round" stroke-linejoin="round"/></g>
<g transform="translate(534.53,389.6) rotate(-45)"><path transform="translate(0,20.7)" d="M-36.26,0L-35.86,-5.72L-34.08,-2.12L-32.36,-5.72L-31.9,0M-27.8,-5.96C-29.25,-6.14 -30.44,-4.01 -30.44,-2.3C-30.44,-0.53 -29.65,0.41 -28.66,0.3C-27.27,0.12 -26.41,-1.77 -26.41,-3.48C-26.41,-5.13 -27.01,-6.08 -28.26,-5.84M-24.56,-5.72L-24.56,0.06M-24.89,-5.66C-23.04,-6.37 -20.79,-5.9 -20.93,-4.25C-21.06,-3.07 -22.91,-2.71 -24.43,-2.71M-23.17,-2.71L-20.53,0M-18.68,-0.12L-18.94,-5.66L-15.64,-0.24L-15.18,-6.08M-13.26,-5.78L-13.19,0M-11.81,-0.12L-12.07,-5.66L-8.77,-0.24L-8.3,-6.08M-2.29,-4.78C-3.08,-6.02 -5.33,-6.14 -6.39,-3.54C-7.31,-0.94 -4.93,0.71 -2.95,-0.12C-2.42,-0.47 -2.29,-1.3 -2.29,-2.24M-4.27,-2.36L-1.3,-2.54" fill="none" stroke="#3c3c3c" stroke-width="1.25" stroke-linecap="round" stroke-linejoin="round"/></g>
<g transform="translate(563.05,389.6) rotate(-45)"><path transform="translate(0,7.6)" d="M-25.37,-5.78L-25.31,0M-25.77,-5.61C-22.34,-6.25 -20.88,-4.25 -21.21,-2.71C-21.54,-0.71 -23.26,0.12 -25.64,-0.12M-19.69,0.24C-19.03,-1.53 -18.11,-3.72 -17.18,-5.72C-16.52,-3.89 -15.66,-1.71 -14.93,0.18M-18.9,-1.71L-15.4,-2.06M-13.88,-5.9L-11.5,-2.95M-9.12,-6.02L-11.5,-2.95L-11.89,0M-4.23,-4.48C-3.7,-6.02 -0.53,-6.25 -0.53,-4.48C-0.53,-2.83 -3.57,-1.53 -4.36,-0.06L0,-0.35" fill="none" stroke="#3c3c3c" stroke-width="1.25" stroke-linecap="round" stroke-linejoin="round"/></g>
<g transform="translate(563.05,389.6) rotate(-45)"><path transform="translate(0,20.7)" d="M-24.35,-0.12L-24.61,-5.66L-21.31,-0.24L-20.84,-6.08M-18.93,-5.78L-18.86,0M-13.24,-4.78C-14.04,-6.02 -16.28,-6.14 -17.34,-3.54C-18.27,-0.94 -15.89,0.71 -13.91,-0.12C-13.38,-0.47 -13.24,-1.3 -13.24,-2.24M-15.23,-2.36L-12.25,-2.54M-10.87,-5.78L-10.8,0M-7.03,-5.9L-7.03,0M-10.8,-2.77L-7.03,-3.07M-5.45,-5.78L0.5,-6.02M-2.34,-5.9L-2.67,0" fill="none" stroke="#3c3c3c" stroke-width="1.25" stroke-linecap="round" stroke-linejoin="round"/></g>
<g transform="translate(591.58,389.6) rotate(-45)"><path transform="translate(0,7.6)" d="M-25.68,-5.78L-25.61,0M-26.07,-5.61C-22.64,-6.25 -21.18,-4.25 -21.51,-2.71C-21.85,-0.71 -23.56,0.12 -25.94,-0.12M-20,0.24C-19.33,-1.53 -18.41,-3.72 -17.48,-5.72C-16.82,-3.89 -15.96,-1.71 -15.24,0.18M-19.2,-1.71L-15.7,-2.06M-14.18,-5.9L-11.8,-2.95M-9.42,-6.02L-11.8,-2.95L-12.2,0M-4.6,-5.43L-0.3,-5.72L-2.68,-3.19C-0.83,-3.3 0.23,-2.48 -0.04,-1.53C-0.3,0.12 -3.21,0.59 -4.8,-0.12" fill="none" stroke="#3c3c3c" stroke-width="1.25" stroke-linecap="round" stroke-linejoin="round"/></g>
<g transform="translate(591.58,389.6) rotate(-45)"><path transform="translate(0,20.7)" d="M-36.26,0L-35.86,-5.72L-34.08,-2.12L-32.36,-5.72L-31.9,0M-27.8,-5.96C-29.25,-6.14 -30.44,-4.01 -30.44,-2.3C-30.44,-0.53 -29.65,0.41 -28.66,0.3C-27.27,0.12 -26.41,-1.77 -26.41,-3.48C-26.41,-5.13 -27.01,-6.08 -28.26,-5.84M-24.56,-5.72L-24.56,0.06M-24.89,-5.66C-23.04,-6.37 -20.79,-5.9 -20.93,-4.25C-21.06,-3.07 -22.91,-2.71 -24.43,-2.71M-23.17,-2.71L-20.53,0M-18.68,-0.12L-18.94,-5.66L-15.64,-0.24L-15.18,-6.08M-13.26,-5.78L-13.19,0M-11.81,-0.12L-12.07,-5.66L-8.77,-0.24L-8.3,-6.08M-2.29,-4.78C-3.08,-6.02 -5.33,-6.14 -6.39,-3.54C-7.31,-0.94 -4.93,0.71 -2.95,-0.12C-2.42,-0.47 -2.29,-1.3 -2.29,-2.24M-4.27,-2.36L-1.3,-2.54" fill="none" stroke="#3c3c3c" stroke-width="1.25" stroke-linecap="round" stroke-linejoin="round"/></g>
<g transform="translate(620.11,389.6) rotate(-45)"><path transform="translate(0,7.6)" d="M-25.68,-5.78L-25.61,0M-26.07,-5.61C-22.64,-6.25 -21.18,-4.25 -21.51,-2.71C-21.85,-0.71 -23.56,0.12 -25.94,-0.12M-20,0.24C-19.33,-1.53 -18.41,-3.72 -17.48,-5.72C-16.82,-3.89 -15.96,-1.71 -15.24,0.18M-19.2,-1.71L-15.7,-2.06M-14.18,-5.9L-11.8,-2.95M-9.42,-6.02L-11.8,-2.95L-12.2,0M-4.6,-5.43L-0.3,-5.72L-2.68,-3.19C-0.83,-3.3 0.23,-2.48 -0.04,-1.53C-0.3,0.12 -3.21,0.59 -4.8,-0.12" fill="none" stroke="#3c3c3c" stroke-width="1.25" stroke-linecap="round" stroke-linejoin="round"/></g>
<g transform="translate(620.11,389.6) rotate(-45)"><path transform="translate(0,20.7)" d="M-24.35,-0.12L-24.61,-5.66L-21.31,-0.24L-20.84,-6.08M-18.93,-5.78L-18.86,0M-13.24,-4.78C-14.04,-6.02 -16.28,-6.14 -17.34,-3.54C-18.27,-0.94 -15.89,0.71 -13.91,-0.12C-13.38,-0.47 -13.24,-1.3 -13.24,-2.24M-15.23,-2.36L-12.25,-2.54M-10.87,-5.78L-10.8,0M-7.03,-5.9L-7.03,0M-10.8,-2.77L-7.03,-3.07M-5.45,-5.78L0.5,-6.02M-2.34,-5.9L-2.67,0" fill="none" stroke="#3c3c3c" stroke-width="1.25" stroke-linecap="round" stroke-linejoin="round"/></g>
<g transform="translate(648.64,389.6) rotate(-45)"><path transform="translate(0,7.6)" d="M-25.51,-5.78L-25.44,0M-25.9,-5.61C-22.47,-6.25 -21.01,-4.25 -21.34,-2.71C-21.67,-0.71 -23.39,0.12 -25.77,-0.12M-19.82,0.24C-19.16,-1.53 -18.24,-3.72 -17.31,-5.72C-16.65,-3.89 -15.79,-1.71 -15.07,0.18M-19.03,-1.71L-15.53,-2.06M-14.01,-5.9L-11.63,-2.95M-9.25,-6.02L-11.63,-2.95L-12.03,0M-2.64,-5.9L-4.49,-2.24L0,-2.48M-1.19,-5.43L-1.32,0" fill="none" stroke="#3c3c3c" stroke-width="1.25" stroke-linecap="round" stroke-linejoin="round"/></g>
<g transform="translate(648.64,389.6) rotate(-45)"><path transform="translate(0,20.7)" d="M-36.26,0L-35.86,-5.72L-34.08,-2.12L-32.36,-5.72L-31.9,0M-27.8,-5.96C-29.25,-6.14 -30.44,-4.01 -30.44,-2.3C-30.44,-0.53 -29.65,0.41 -28.66,0.3C-27.27,0.12 -26.41,-1.77 -26.41,-3.48C-26.41,-5.13 -27.01,-6.08 -28.26,-5.84M-24.56,-5.72L-24.56,0.06M-24.89,-5.66C-23.04,-6.37 -20.79,-5.9 -20.93,-4.25C-21.06,-3.07 -22.91,-2.71 -24.43,-2.71M-23.17,-2.71L-20.53,0M-18.68,-0.12L-18.94,-5.66L-15.64,-0.24L-15.18,-6.08M-13.26,-5.78L-13.19,0M-11.81,-0.12L-12.07,-5.66L-8.77,-0.24L-8.3,-6.08M-2.29,-4.78C-3.08,-6.02 -5.33,-6.14 -6.39,-3.54C-7.31,-0.94 -4.93,0.71 -2.95,-0.12C-2.42,-0.47 -2.29,-1.3 -2.29,-2.24M-4.27,-2.36L-1.3,-2.54" fill="none" stroke="#3c3c3c" stroke-width="1.25" stroke-linecap="round" stroke-linejoin="round"/></g>
</svg>
</body>
</html>
